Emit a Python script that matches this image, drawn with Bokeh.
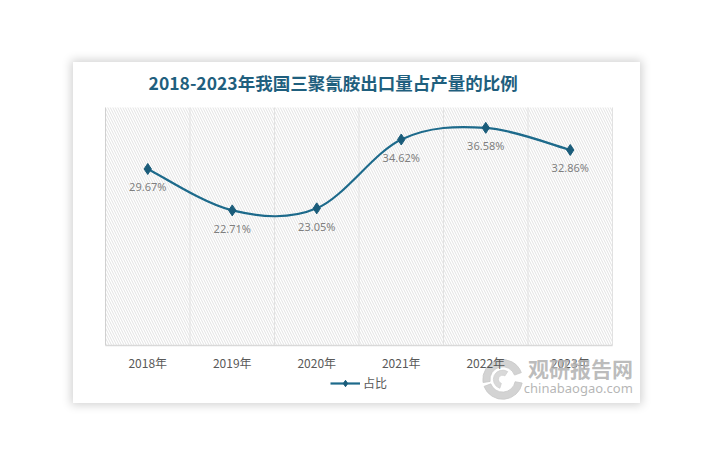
from bokeh.plotting import figure
from bokeh.models import (FixedTicker, BoxAnnotation, Label, Legend, LegendItem,
                          ColumnDataSource, Range1d)
from bokeh.embed import file_html
from bokeh.resources import INLINE

title = "2018-2023年我国三聚氰胺出口量占产量的比例"
years = ["2018年", "2019年", "2020年", "2021年", "2022年", "2023年"]
share = [29.67, 22.71, 23.05, 34.62, 36.58, 32.86]
series_name = "占比"
y_max = 40

LINE = "#1d6a8b"
MARK = "#1a5c7a"

n = len(years)
xs = [i + 0.5 for i in range(n)]
labels = [f"{v:.2f}%" for v in share]

# card 567x341; plot area 32px from left, 28 from right, 45 from top, 58 from bottom
CW, CH = 567, 341
pxu = (CW - 32 - 28) / n
pyu = (CH - 45 - 58) / y_max
p = figure(width=CW, height=CH, output_backend="svg", toolbar_location=None,
           x_range=Range1d(-32 / pxu, n + 28 / pxu),
           y_range=Range1d(-58 / pyu, y_max + 45 / pyu),
           min_border=0, min_border_left=0, min_border_right=0,
           min_border_top=0, min_border_bottom=0,
           background_fill_color="white", border_fill_color="white", outline_line_color=None,
           margin=(62, 0, 0, 73),
           styles={"box-shadow": "0px 0px 9px 2px rgba(0,0,0,0.18)"})

# hatched plot background
p.add_layout(BoxAnnotation(left=0, right=n, bottom=0, top=y_max,
                           fill_alpha=0, line_alpha=0,
                           hatch_pattern="\\", hatch_color="#cfcfcf",
                           hatch_scale=5, hatch_weight=0.6, level="underlay"))

p.yaxis.visible = False
p.ygrid.visible = False
p.xgrid.visible = False
# category separators
p.segment(x0=list(range(n + 1)), y0=[0] * (n + 1), x1=list(range(n + 1)), y1=[y_max] * (n + 1),
          line_color=["#d0d0d0"] + ["#e2e2e2"] * n, line_width=1)

p.xaxis.fixed_location = 0
p.xaxis.bounds = (0, n)
p.xaxis.ticker = FixedTicker(ticks=xs)
p.xaxis.major_label_overrides = {x: y for x, y in zip(xs, years)}
p.xaxis.axis_line_color = "#d9d9d9"
p.xaxis.axis_line_width = 1.5
p.xaxis.major_tick_line_color = None
p.xaxis.major_tick_out = 0
p.xaxis.major_tick_in = 0
p.xaxis.minor_tick_line_color = None
p.xaxis.major_label_text_color = "#595959"
p.xaxis.major_label_text_font = "Noto Sans CJK SC"
p.xaxis.major_label_text_font_size = "12px"
p.xaxis.major_label_standoff = 8

# watermark logo (decorative)
p.annular_wedge(x=4.70, y=-5.7, inner_radius=0.15, outer_radius=0.235,
                start_angle=0.35, end_angle=3.3, color="#c8c8c8", alpha=0.8)
p.annular_wedge(x=4.70, y=-5.7, inner_radius=0.15, outer_radius=0.235,
                start_angle=3.5, end_angle=6.1, color="#c8c8c8", alpha=0.8)
p.annular_wedge(x=4.70, y=-5.7, inner_radius=0.05, outer_radius=0.11,
                start_angle=1.0, end_angle=4.4, color="#cfcfcf", alpha=0.8)

# smooth curve (Excel-like cardinal spline through the data points)
x0, y0, x1, y1, cx0, cy0, cx1, cy1 = [], [], [], [], [], [], [], []
for i in range(n - 1):
    pm = (xs[max(i - 1, 0)], share[max(i - 1, 0)])
    pa = (xs[i], share[i])
    pb = (xs[i + 1], share[i + 1])
    pn = (xs[min(i + 2, n - 1)], share[min(i + 2, n - 1)])
    x0.append(pa[0]); y0.append(pa[1]); x1.append(pb[0]); y1.append(pb[1])
    cx0.append(pa[0] + (pb[0] - pm[0]) / 6); cy0.append(pa[1] + (pb[1] - pm[1]) / 6)
    cx1.append(pb[0] - (pn[0] - pa[0]) / 6); cy1.append(pb[1] - (pn[1] - pa[1]) / 6)
bz = p.bezier(x0=x0, y0=y0, x1=x1, y1=y1, cx0=cx0, cy0=cy0, cx1=cx1, cy1=cy1,
              line_color=LINE, line_width=2.2)

src = ColumnDataSource(dict(x=xs, y=share, lab=labels))
sc = p.scatter("x", "y", source=src, marker="diamond", size=11,
               fill_color=MARK, line_color=MARK)
p.text("x", "y", text="lab", source=src, text_align="center", text_baseline="middle",
       y_offset=18, text_color="#7f7f7f", text_font_size="11px",
       text_font={"value": "Noto Sans"})

legend = Legend(items=[LegendItem(label=series_name, renderers=[bz, sc])],
                orientation="horizontal", location=(257, 12),
                label_text_font="Noto Sans CJK SC", label_text_font_size="12px",
                label_text_color="#595959", border_line_color=None,
                background_fill_alpha=0, padding=0, margin=0,
                glyph_width=30, glyph_height=16, label_height=16, label_standoff=3)
p.add_layout(legend, "center")

p.add_layout(Label(x=0.51, y=y_max + 25 / pyu, text=title, text_align="left",
                   text_baseline="middle",
                   text_font="Noto Sans CJK SC", text_font_size="17.5px",
                   text_font_style="bold", text_color="#1f5f7e"))

# watermark
p.add_layout(Label(x=5.0, y=-22 / pyu, text="观研报告网", text_align="left",
                   text_baseline="middle",
                   text_font="Noto Sans CJK SC", text_font_size="21px",
                   text_font_style="bold", text_color="#b0b0b0", text_alpha=0.85))
p.add_layout(Label(x=4.95, y=-42 / pyu, text="chinabaogao.com", text_align="left",
                   text_baseline="middle", text_font="Noto Sans", text_font_size="13px",
                   text_color="#a8a8a8", text_alpha=0.85))

open("out.html", "w").write(file_html(p, INLINE))
